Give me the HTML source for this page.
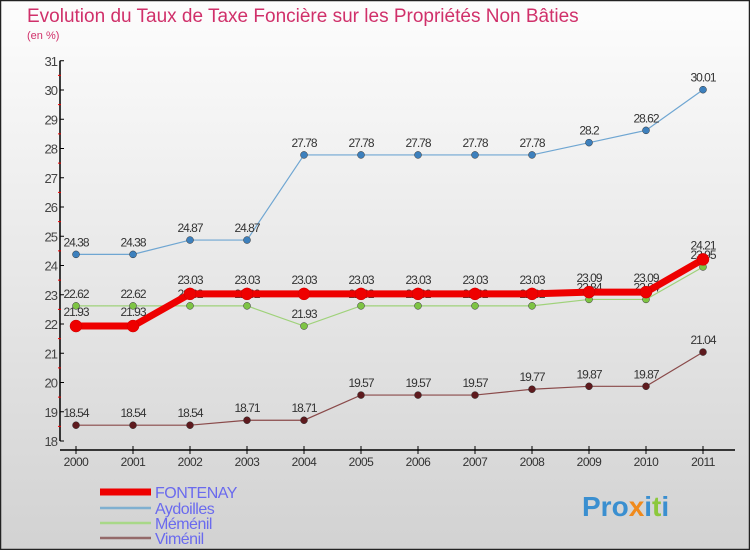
<!DOCTYPE html>
<html><head><meta charset="utf-8"><style>
body{margin:0;}
#wrap{width:750px;height:550px;position:relative;overflow:hidden;font-family:"Liberation Sans",sans-serif;}
</style></head><body>
<div id="wrap">
<svg id="chart" width="750" height="550" xmlns="http://www.w3.org/2000/svg">
<defs><linearGradient id="bg" x1="0" y1="0" x2="0" y2="1"><stop offset="0" stop-color="#fdfdfd"/><stop offset="1" stop-color="#d2d2d2"/></linearGradient></defs>
<rect x="0.5" y="0.5" width="749" height="549" fill="url(#bg)" stroke="#222" stroke-width="1.5"/>
<text x="27" y="22" font-size="19" fill="#d0306a">Evolution du Taux de Taxe Foncière sur les Propriétés Non Bâties</text>
<text x="27" y="39" font-size="11" fill="#d0306a">(en %)</text>
<g id="axes"></g><g id="series"></g><g id="legend"></g>
<text x="582" y="516" font-size="28" font-weight="bold" fill="#3a8fd0">Pro<tspan fill="#f08a1c">x</tspan>i<tspan fill="#8cc83c">t</tspan>i</text>
</svg></div>
<script>
const years=["2000","2001","2002","2003","2004","2005","2006","2007","2008","2009","2010","2011"];
const yTicks=[18,19,20,21,22,23,24,25,26,27,28,29,30,31];
const fontenay=[21.93,21.93,23.03,23.03,23.03,23.03,23.03,23.03,23.03,23.09,23.09,24.21];
const aydoilles=[24.38,24.38,24.87,24.87,27.78,27.78,27.78,27.78,27.78,28.2,28.62,30.01];
const memenil=[22.62,22.62,22.62,22.62,21.93,22.62,22.62,22.62,22.62,22.84,22.84,23.95];
const vimenil=[18.54,18.54,18.54,18.71,18.71,19.57,19.57,19.57,19.77,19.87,19.87,21.04];
const NS="http://www.w3.org/2000/svg";
const xS=i=>76+i*57;
const yS=v=>441-(v-18)*29.25;
function mk(tag,attrs,parent,text){const e=document.createElementNS(NS,tag);for(const k in attrs)e.setAttribute(k,attrs[k]);if(text!==undefined)e.textContent=text;parent.appendChild(e);return e;}
const ax=document.getElementById('axes');
let l=mk('line',{x1:60,y1:yS(31),x2:60,y2:yS(18),stroke:'#000','stroke-width':1.5},ax);


yTicks.forEach(t=>{
 let tk=mk('line',{x1:60,y1:yS(t),x2:64,y2:yS(t),stroke:'#000'},ax);
 
 
 if(t<31){let m=mk('line',{x1:58,y1:yS(t+0.5),x2:61,y2:yS(t+0.5),stroke:'#e00'},ax);
 
 }
 let tx=mk('text',{x:57,y:yS(t)+5,'font-size':13,fill:'#444','text-anchor':'end','letter-spacing':'-1'},ax,String(t));
 
 
});
l=mk('line',{x1:60,y1:450,x2:735,y2:450,stroke:'#000','stroke-width':1.5},ax);


years.forEach((y,i)=>{
 let tk=mk('line',{x1:xS(i),y1:446,x2:xS(i),y2:454,stroke:'#000'},ax);
 
 
 let tx=mk('text',{x:xS(i),y:466,'font-size':12,fill:'#333','text-anchor':'middle','letter-spacing':'-0.5'},ax,y);
 
 
});
const sg=document.getElementById('series');
const defs=[
 {name:'aydoilles',data:aydoilles,color:'#6fa6d2',mark:'#3d80bd',w:1.2,r:3.5,dy:-8},
 {name:'memenil',data:memenil,color:'#9fd27a',mark:'#7ec444',w:1.2,r:3.5,dy:-8},
 {name:'vimenil',data:vimenil,color:'#8a4a4a',mark:'#5e1a1e',w:1.2,r:3.5,dy:-8},
 {name:'fontenay',data:fontenay,color:'#ee0000',mark:'#ee0000',w:7,r:6,dy:-10}
];
defs.forEach(s=>{
 const g=mk('g',{},sg);
 
 
 const p=mk('polyline',{points:s.data.map((v,i)=>xS(i)+','+yS(v)).join(' '),fill:'none',stroke:s.color,'stroke-width':s.w},g);
 
 
 s.data.forEach((v,i)=>{
  const c=mk('circle',{cx:xS(i),cy:yS(v),r:s.r,fill:s.mark,stroke:s.name==='fontenay'?'#c00':'#333','stroke-width':0.5},g);
  
  
  const t=mk('text',{x:xS(i),y:yS(v)+s.dy,'font-size':12,fill:'#333','text-anchor':'middle','letter-spacing':'-1'},g,String(v));
  
  
 });
});
const lg=document.getElementById('legend');
const leg=[['FONTENAY','#ee0000',7,492],['Aydoilles','#7fb0d0',2.5,508],['Méménil','#a8d888',2.5,523],['Viménil','#946a6a',2.5,538]];
leg.forEach(e=>{
 const li=mk('line',{x1:100,y1:e[3],x2:151,y2:e[3],stroke:e[1],'stroke-width':e[2]},lg);
 
 
 const t=mk('text',{x:155,y:e[3]+6,'font-size':16,fill:'#6a6aee','letter-spacing':'-0.5'},lg,e[0]);
 
 
});
</script>
</body></html>
